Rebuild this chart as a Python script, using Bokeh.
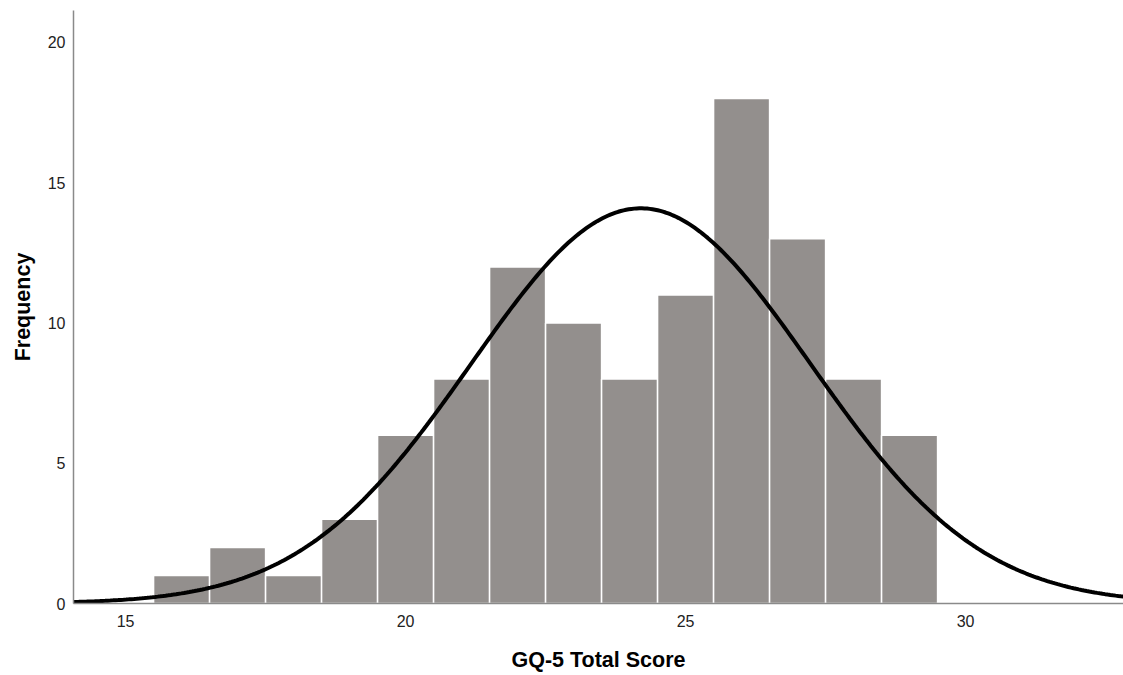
import numpy as np
from bokeh.plotting import figure
from bokeh.models import Range1d, FixedTicker
from bokeh.embed import file_html
from bokeh.resources import INLINE

# Data
scores = [16, 17, 18, 19, 20, 21, 22, 23, 24, 25, 26, 27, 28, 29]
frequency = [1, 2, 1, 3, 6, 8, 12, 10, 8, 11, 18, 13, 8, 6]
# Fitted normal curve parameters
n_total = sum(frequency)
mean_score = 24.2
sd_score = 3.03
bin_width = 1.0

x_ticks = [15, 20, 25, 30]
y_ticks = [0, 5, 10, 15, 20]

x_lo, x_hi = 14.07, 32.82

p = figure(width=1123, height=675, output_backend="svg", toolbar_location=None,
           x_range=Range1d(x_lo, x_hi), y_range=Range1d(0, 21.14),
           min_border_left=73, min_border_right=0, min_border_top=10, min_border_bottom=72)
p.outline_line_color = None
p.xgrid.visible = False
p.ygrid.visible = False
p.background_fill_color = "white"

p.vbar(x=scores, top=frequency, width=bin_width, bottom=0,
       fill_color="#938f8d", line_color="white", line_width=1.5)

xs = np.linspace(x_lo, x_hi, 400)
ys = n_total * bin_width / (sd_score * np.sqrt(2 * np.pi)) * np.exp(-0.5 * ((xs - mean_score) / sd_score) ** 2)
p.line(xs, ys, line_color="black", line_width=4)

for ax in (p.xaxis, p.yaxis):
    ax.axis_line_color = "#8a8a8a"
    ax.axis_line_width = 1.5
    ax.major_tick_line_color = None
    ax.minor_tick_line_color = None
    ax.major_label_text_font = "Liberation Sans"
    ax.major_label_text_font_size = "16px"
    ax.major_label_text_color = "#222222"
    ax.axis_label_text_font = "Liberation Sans"
    ax.axis_label_text_font_size = "21.5px"
    ax.axis_label_text_font_style = "bold"
    ax.axis_label_text_color = "black"

p.xaxis.ticker = FixedTicker(ticks=x_ticks)
p.yaxis.ticker = FixedTicker(ticks=y_ticks)
p.xaxis.axis_label = "GQ-5 Total Score"
p.yaxis.axis_label = "Frequency"
p.xaxis.major_label_standoff = 5
p.yaxis.major_label_standoff = 2
p.xaxis.axis_label_standoff = 18
p.yaxis.axis_label_standoff = 10

open("out.html", "w").write(file_html(p, INLINE))
